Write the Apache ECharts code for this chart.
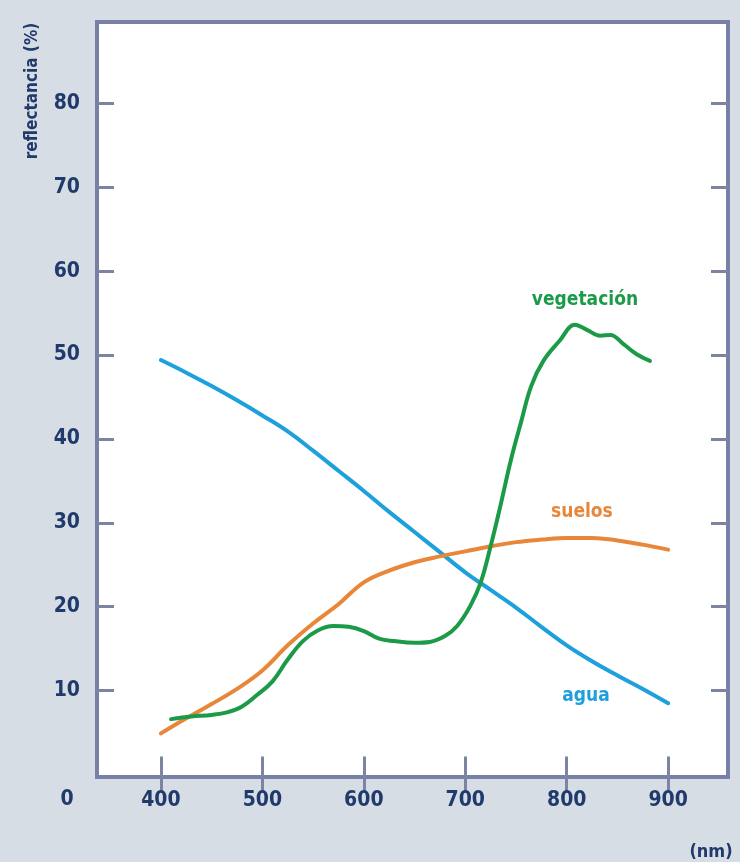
<!DOCTYPE html>
<html>
<head>
<meta charset="utf-8">
<script src="https://cdn.jsdelivr.net/npm/echarts@6/dist/echarts.min.js"></script>
<style>
  html, body { margin: 0; padding: 0; background: #d7dde5; }
  #chart { width: 740px; height: 862px; }
</style>
</head>
<body>
<div id="chart"></div>
<script>
// Spectral reflectance curves (wavelength in nm, reflectance in %)
const aguaNm = [400, 425, 450, 475, 500, 525, 550, 575, 600, 625, 650, 675, 700, 725, 750, 775, 800, 825, 850, 875, 900];
const aguaVal = [49.4, 47.9, 46.3, 44.6, 42.8, 40.9, 38.6, 36.2, 33.8, 31.3, 28.9, 26.5, 24.1, 22.0, 19.9, 17.6, 15.4, 13.5, 11.8, 10.2, 8.5];

const suelosNm = [400, 425, 450, 475, 500, 525, 550, 575, 600, 625, 650, 675, 700, 725, 750, 775, 800, 825, 850, 875, 900];
const suelosVal = [4.9, 6.7, 8.4, 10.2, 12.4, 15.4, 18.0, 20.3, 22.9, 24.3, 25.3, 26.0, 26.6, 27.2, 27.7, 28.0, 28.2, 28.2, 27.9, 27.4, 26.8];

const vegNm = [410, 430, 450, 465, 480, 495, 510, 525, 540, 555, 570, 585, 600, 615, 630, 650, 665, 680, 692, 705, 715, 725, 735, 745, 755, 765, 777, 793, 808, 820, 833, 843, 856, 869, 882];
const vegVal = [6.6, 6.9, 7.1, 7.4, 8.1, 9.5, 11.1, 13.7, 15.9, 17.2, 17.7, 17.6, 17.1, 16.2, 15.9, 15.7, 15.8, 16.5, 17.7, 20.1, 22.8, 27.2, 32.2, 37.5, 42.0, 46.3, 49.3, 51.7, 53.6, 53.0, 52.3, 52.4, 51.3, 50.1, 49.3];

// Tick values shown on the axes
const xTicks = [400, 500, 600, 700, 800, 900];
const yTicks = [10, 20, 30, 40, 50, 60, 70, 80];

// Curve names with their label anchor (nm, %)
const curveLabels = [
  { name: 'vegetación', at: [818, 56.6] },
  { name: 'suelos', at: [815, 31.3] },
  { name: 'agua', at: [819, 9.4] }
];

const FONT = "'Liberation Sans Narrow', 'DejaVu Sans Condensed', sans-serif";
const NAVY = '#203a6c';
const TICK = '#7c84a2';
const COLORS = { agua: '#1ea0dc', suelos: '#e8873a', veg: '#1b9a48' };

const pairs = (xs, ys) => xs.map((x, i) => [x, ys[i]]);

function curve(name, xs, ys, color, label) {
  return {
    name: name,
    type: 'line',
    xAxisIndex: 0,
    yAxisIndex: 0,
    data: pairs(xs, ys),
    smooth: 0.4,
    showSymbol: false,
    silent: true,
    lineStyle: { color: color, width: 4, cap: 'round', join: 'round' },
    markPoint: {
      silent: true,
      symbol: 'circle',
      symbolSize: 0,
      data: [{
        coord: label.at,
        label: {
          show: true,
          position: 'inside',
          formatter: label.name,
          color: color,
          fontFamily: FONT,
          fontWeight: 'bold',
          fontSize: 19
        }
      }]
    }
  };
}

const xMin = 337, xMax = 959, yMin = -0.3, yMax = 89.7;

const chart = echarts.init(document.getElementById('chart'), null, { renderer: 'canvas' });

const tickBase = { show: true, inside: true, length: 18, lineStyle: { color: TICK, width: 3 } };

chart.setOption({
  backgroundColor: '#d7dde5',
  animation: false,
  grid: {
    left: 97, top: 22, width: 631, height: 755,
    show: true, backgroundColor: '#ffffff',
    borderColor: '#7880a6', borderWidth: 4
  },
  xAxis: [
    {
      type: 'value', position: 'bottom', min: xMin, max: xMax,
      axisLine: { show: false }, splitLine: { show: false },
      axisTick: Object.assign({ customValues: xTicks }, tickBase),
      axisLabel: {
        customValues: xTicks, margin: 13, color: NAVY,
        fontFamily: FONT, fontWeight: 'bold', fontSize: 21
      }
    },
    {
      type: 'value', position: 'top', min: xMin, max: xMax,
      axisLine: { show: false }, splitLine: { show: false },
      axisTick: Object.assign({ customValues: xTicks }, tickBase),
      axisLabel: { show: false }
    }
  ],
  yAxis: [
    {
      type: 'value', position: 'left', min: yMin, max: yMax,
      axisLine: { show: false }, splitLine: { show: false },
      axisTick: Object.assign({ customValues: yTicks }, tickBase, { length: 17 }),
      axisLabel: {
        customValues: yTicks, margin: 17, color: NAVY,
        fontFamily: FONT, fontWeight: 'bold', fontSize: 21
      }
    },
    {
      type: 'value', position: 'right', min: yMin, max: yMax,
      axisLine: { show: false }, splitLine: { show: false },
      axisTick: Object.assign({ customValues: yTicks }, tickBase, { length: 17 }),
      axisLabel: { show: false }
    }
  ],
  series: [
    curve('agua', aguaNm, aguaVal, COLORS.agua, curveLabels[2]),
    curve('suelos', suelosNm, suelosVal, COLORS.suelos, curveLabels[1]),
    curve('vegetación', vegNm, vegVal, COLORS.veg, curveLabels[0])
  ],
  graphic: [
    {
      type: 'text', x: 33, y: 91, rotation: Math.PI / 2,
      style: {
        text: 'reflectancia (%)', fill: NAVY, font: 'bold 17px ' + FONT,
        textAlign: 'center', textVerticalAlign: 'middle'
      }
    },
    {
      type: 'text', x: 67, y: 800,
      style: {
        text: '0', fill: NAVY, font: 'bold 21px ' + FONT,
        textAlign: 'center', textVerticalAlign: 'middle'
      }
    },
    {
      type: 'text', x: 711, y: 852,
      style: {
        text: '(nm)', fill: NAVY, font: 'bold 18px ' + FONT,
        textAlign: 'center', textVerticalAlign: 'middle'
      }
    }
  ]
});
</script>
</body>
</html>
